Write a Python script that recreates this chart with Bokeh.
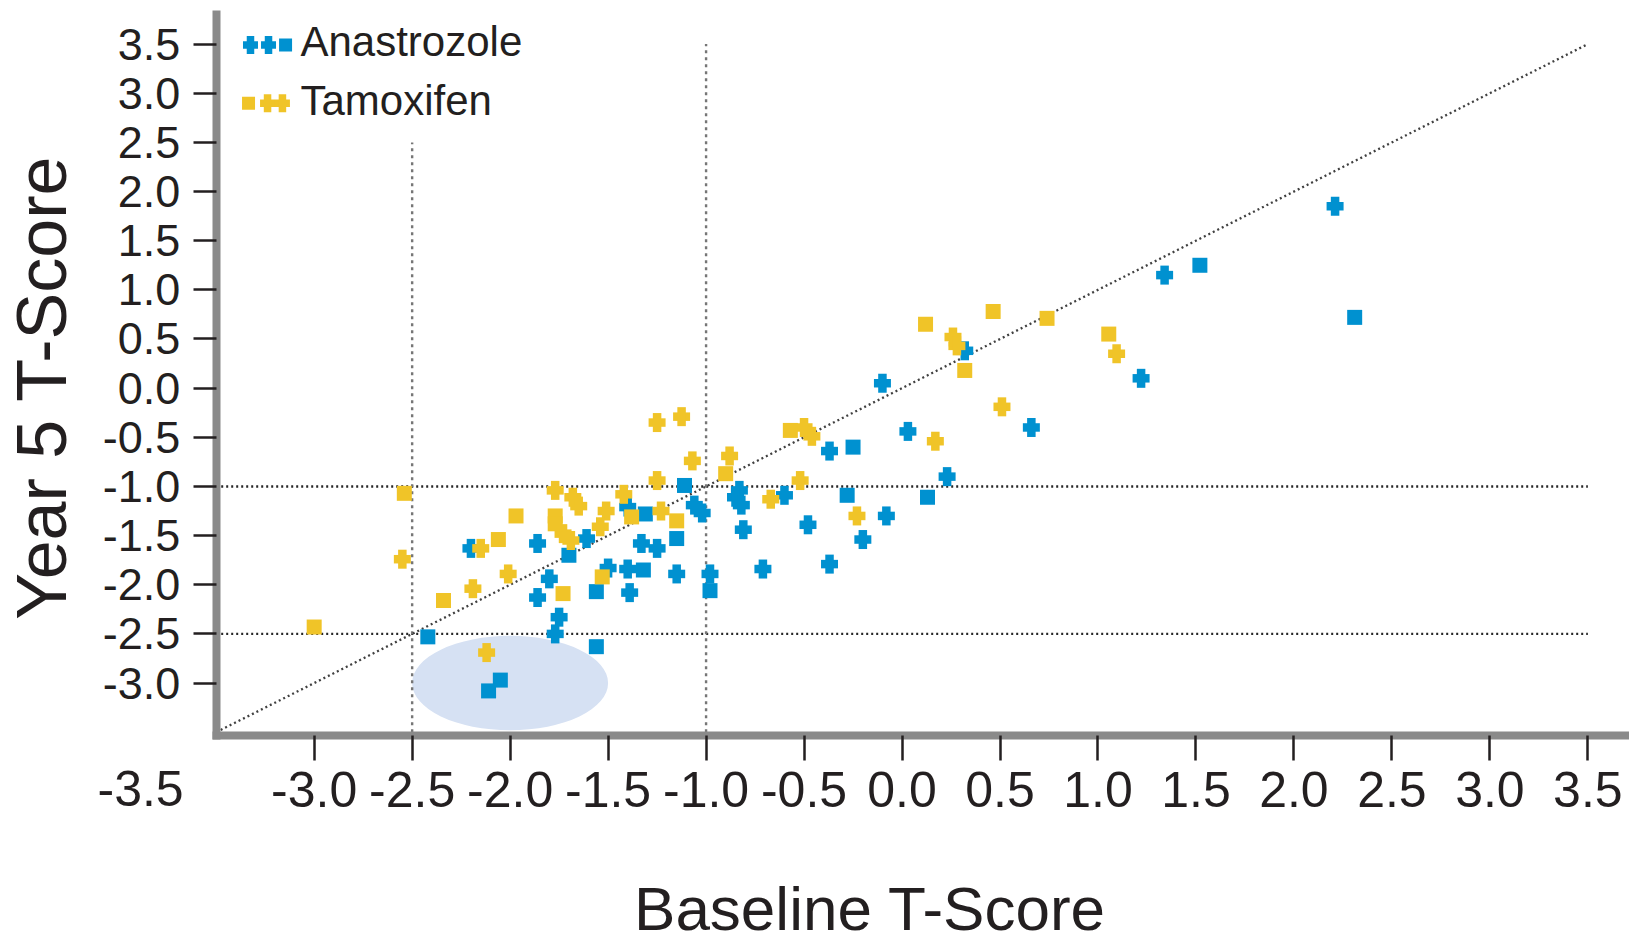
import math
from bokeh.plotting import figure
from bokeh.models import Range1d, FixedTicker, Label, PrintfTickFormatter
from bokeh.embed import file_html
from bokeh.resources import INLINE

# ---------------- data ----------------
# Anastrozole (blue) points, drawn as crosses / squares as in the picture
ana_cross_x = [2.21, 1.34, 1.22, 0.32, -0.10, 0.03, 0.66, 0.23, -0.08, -0.20, -0.37, -0.48,
               -0.37, -0.60, -0.71, -0.83, -0.85, -0.82, -0.81, -0.98, -1.06, -1.02, -1.15,
               -1.25, -1.33, -1.40, -1.40, -1.50, -1.39, -1.61, -1.80, -1.86, -1.86, -1.75,
               -1.77, -2.20]
ana_cross_y = [1.85, 1.15, 0.10, 0.38, 0.05, -0.44, -0.40, -0.90, -1.30, -1.54, -1.79, -1.39,
               -0.64, -1.09, -1.84, -1.04, -1.11, -1.19, -1.44, -1.89, -1.19, -1.27, -1.89,
               -1.63, -1.58, -1.21, -1.84, -1.83, -2.08, -1.53, -1.94, -2.13, -1.58, -2.33,
               -2.50, -1.63]
ana_square_x = [2.31, 1.52, -0.25, -0.28, 0.13, -0.98, -1.15, -1.31, -1.32, -1.56, -1.70,
                -1.56, -2.42, -1.11, -2.05, -2.11]
ana_square_y = [0.72, 1.25, -0.60, -1.09, -1.11, -2.06, -1.53, -1.28, -1.85, -2.07, -1.70,
                -2.63, -2.53, -0.99, -2.97, -3.08]

# Tamoxifen (yellow) points
tam_cross_x = [-2.55, -2.19, -2.15, -2.01, -2.12, -1.77, -1.68, -1.65, -1.73, -1.69, -1.51,
               -1.54, -1.42, -1.25, -1.125, -1.25, -1.23, -1.07, -0.88, -0.67, -0.52, -0.50,
               -0.46, -0.23, 0.17, 0.26, 0.28, 0.51, 1.095]
tam_cross_y = [-1.74, -2.04, -1.63, -1.89, -2.69, -1.04, -1.11, -1.20, -1.48, -1.55, -1.25,
               -1.41, -1.08, -0.35, -0.29, -0.94, -1.25, -0.74, -0.69, -1.13, -0.94, -0.40,
               -0.49, -1.30, -0.54, 0.52, 0.43, -0.19, 0.35]
tam_square_x = [-3.00, -2.54, -2.34, -2.06, -1.97, -1.77, -1.77, -1.73, -1.53, -1.38, -1.15,
                -0.90, -0.57, 0.12, 0.32, 0.465, 0.74, 1.055]
tam_square_y = [-2.43, -1.07, -2.16, -1.54, -1.30, -1.30, -1.38, -2.09, -1.92, -1.31, -1.35,
                -0.87, -0.43, 0.65, 0.18, 0.78, 0.71, 0.55]

series_names = ["Anastrozole", "Tamoxifen"]

x_ticks = [-3.0, -2.5, -2.0, -1.5, -1.0, -0.5, 0.0, 0.5, 1.0, 1.5, 2.0, 2.5, 3.0, 3.5]
y_ticks = [-3.0, -2.5, -2.0, -1.5, -1.0, -0.5, 0.0, 0.5, 1.0, 1.5, 2.0, 2.5, 3.0, 3.5]
x_origin_label = "-3.5"
x_title = "Baseline T-Score"
y_title = "Year 5 T-Score"

# reference lines: thresholds and identity line
threshold_lines = [-1.0, -2.5]
threshold_vline_tops = [3.5, 2.5]
identity_min, identity_max = -3.5, 3.5
highlight_center = (-2.0, -3.0)
highlight_size = (1.0, 0.96)

# ---------------- style / layout ----------------
BLUE = "#0091D0"
YELLOW = "#F0C428"
TEXT = "#231F20"
AXIS_GRAY = "#8A8A8A"
SANS = "Liberation Sans, Arial, Helvetica, sans-serif"

# the frame covers the whole canvas; axes are pinned at -3.5
p = figure(width=1629, height=947, output_backend="svg", toolbar_location=None,
           x_range=Range1d(-4.6008, 3.7125), y_range=Range1d(-5.6902, 3.9435),
           min_border_left=0, min_border_right=0, min_border_top=0, min_border_bottom=0)
p.outline_line_color = None
p.xgrid.visible = False
p.ygrid.visible = False
p.background_fill_color = "white"
p.border_fill_color = "white"

for ax in (p.xaxis[0], p.yaxis[0]):
    ax.axis_line_width = 8
    ax.axis_line_color = AXIS_GRAY
    ax.major_tick_line_color = TEXT
    ax.major_tick_line_width = 2.5
    ax.major_tick_in = 0
    ax.minor_tick_line_color = None
    ax.major_label_text_color = TEXT
    ax.major_label_text_font = SANS
    ax.formatter = PrintfTickFormatter(format="%.1f")

xa = p.xaxis[0]
xa.fixed_location = -3.534
xa.bounds = (-3.52, 3.7125)
xa.ticker = FixedTicker(ticks=x_ticks)
xa.major_tick_out = 25
xa.major_label_standoff = 11
xa.major_label_text_font_size = "50px"

ya = p.yaxis[0]
ya.fixed_location = -3.5
ya.bounds = (-3.574, 3.842)
ya.ticker = FixedTicker(ticks=y_ticks)
ya.major_tick_out = 23
ya.major_label_standoff = 13
ya.major_label_text_font_size = "45px"

# highlighted region
p.ellipse(x=[highlight_center[0]], y=[highlight_center[1]], width=highlight_size[0],
          height=highlight_size[1], fill_color="#D6E1F3", line_color=None)

# reference lines
p.segment(x0=[identity_min] * 2, x1=[identity_max] * 2, y0=threshold_lines, y1=threshold_lines,
          line_color="#262626", line_width=2.4, line_dash="2 3")
p.segment(x0=threshold_lines, x1=threshold_lines, y0=[identity_min] * 2, y1=threshold_vline_tops,
          line_color="#767676", line_width=2.4, line_dash="3 4")
p.segment(x0=[identity_min], y0=[identity_min], x1=[identity_max], y1=[identity_max],
          line_color="#404040", line_width=2.3, line_dash="2 3")


def crosses(xs, ys, color, w=17, h=19, t=8.5):
    p.rect(xs, ys, width=w, height=t, width_units="screen", height_units="screen",
           fill_color=color, line_color=None)
    p.rect(xs, ys, width=t, height=h, width_units="screen", height_units="screen",
           fill_color=color, line_color=None)


def squares(xs, ys, color, s=15):
    p.rect(xs, ys, width=s, height=s, width_units="screen", height_units="screen",
           fill_color=color, line_color=None)


# points
crosses(ana_cross_x, ana_cross_y, BLUE)
squares(ana_square_x, ana_square_y, BLUE)
crosses(tam_cross_x, tam_cross_y, YELLOW)
squares(tam_square_x, tam_square_y, YELLOW)

# manual legend (keys + labels)
LEG_Y = [3.492, 2.897]
LEG_TEXT_Y = [3.527, 2.926]
crosses([-3.325, -3.233], [LEG_Y[0]] * 2, BLUE, w=15, h=18, t=7.5)
squares([-3.146], [LEG_Y[0]], BLUE, s=13)
squares([-3.335], [LEG_Y[1]], YELLOW, s=13)
crosses([-3.238, -3.162], [LEG_Y[1]] * 2, YELLOW, w=15, h=18, t=7.5)
for name, ty in zip(series_names, LEG_TEXT_Y):
    p.add_layout(Label(x=-3.07, y=ty, text=name, text_align="left", text_baseline="alphabetic",
                       text_font=SANS, text_font_size="42px", text_color=TEXT))

# axis titles and origin label
p.add_layout(Label(x=-0.163, y=-5.289, text=x_title, text_align="center",
                   text_baseline="alphabetic", text_font=SANS, text_font_size="62px",
                   text_color=TEXT))
p.add_layout(Label(x=-4.387, y=0.007, text=y_title, angle=math.pi / 2,
                   text_align="center", text_baseline="alphabetic", text_font=SANS,
                   text_font_size="70px", text_color=TEXT))
p.add_layout(Label(x=-3.886, y=-4.073, text=x_origin_label, text_align="center",
                   text_baseline="alphabetic", text_font=SANS, text_font_size="50px",
                   text_color=TEXT))

open("out.html", "w").write(file_html(p, INLINE))
